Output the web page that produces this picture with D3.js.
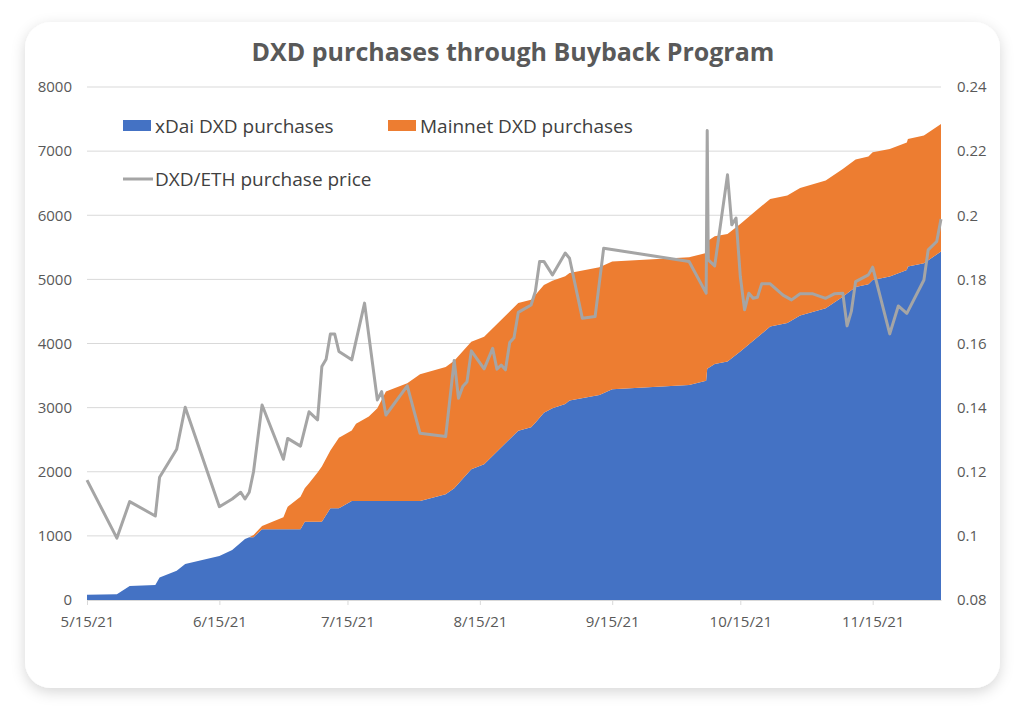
<!DOCTYPE html>
<html>
<head>
<meta charset="utf-8">
<script src="https://cdn.jsdelivr.net/npm/d3@7"></script>
<style>
  html, body { margin: 0; padding: 0; background: #fff; }
  svg { display: block; font-family: 'Open Sans', 'Noto Sans', sans-serif; }
</style>
</head>
<body>
<div id="chart"></div>
<script>
// Cumulative DXD bought, by purchase date
const areaDates = [
  '2021-05-15', '2021-05-22', '2021-05-25', '2021-05-31', '2021-06-01', '2021-06-05',
  '2021-06-07', '2021-06-15', '2021-06-18', '2021-06-21', '2021-06-22', '2021-06-23',
  '2021-06-25', '2021-06-30', '2021-07-01', '2021-07-04', '2021-07-05', '2021-07-06',
  '2021-07-08', '2021-07-09', '2021-07-11', '2021-07-13', '2021-07-16', '2021-07-17',
  '2021-07-20', '2021-07-22', '2021-07-24', '2021-07-29', '2021-08-01', '2021-08-07',
  '2021-08-09', '2021-08-13', '2021-08-16', '2021-08-24', '2021-08-27', '2021-08-28',
  '2021-08-30', '2021-09-01', '2021-09-04', '2021-09-05', '2021-09-12', '2021-09-15',
  '2021-10-03', '2021-10-07', '2021-10-07 06:00', '2021-10-09', '2021-10-12', '2021-10-15',
  '2021-10-19', '2021-10-22', '2021-10-26', '2021-10-29', '2021-11-04', '2021-11-08',
  '2021-11-11', '2021-11-14', '2021-11-15', '2021-11-19', '2021-11-23', '2021-11-23 06:00',
  '2021-11-27', '2021-12-01'
];
const xdaiDxd = [
  80, 90, 220, 234, 350, 457,
  560, 686, 780, 950, 978, 978,
  1103, 1103, 1103, 1103, 1222, 1222,
  1222, 1222, 1430, 1430, 1544, 1544,
  1544, 1544, 1544, 1544, 1544, 1649,
  1742, 2039, 2117, 2641, 2694, 2766,
  2922, 2990, 3058, 3110, 3198, 3287,
  3354, 3421, 3605, 3682, 3718, 3874,
  4098, 4264, 4318, 4435, 4550, 4731,
  4880, 4925, 4992, 5044, 5145, 5200,
  5252, 5434
];
const mainnetDxd = [
  0, 0, 0, 0, 0, 0,
  0, 0, 0, 0, 0, 35,
  51, 187, 353, 509, 520, 600,
  768, 858, 900, 1100, 1100, 1206,
  1316, 1446, 1706, 1836, 1977, 1985,
  1990, 1990, 1990, 1990, 1990, 1990,
  1990, 1990, 1990, 1990, 1990, 1990,
  1990, 1990, 1990, 1990, 1990, 1990,
  1990, 1990, 1990, 1990, 1990, 1990,
  1990, 1990, 1990, 1990, 1990, 1990,
  1990, 1990
];

// DXD/ETH price paid on each purchase
const priceDates = [
  '2021-05-15', '2021-05-22', '2021-05-25', '2021-05-31', '2021-06-01', '2021-06-05',
  '2021-06-07', '2021-06-15', '2021-06-18', '2021-06-20', '2021-06-21', '2021-06-22',
  '2021-06-23', '2021-06-25', '2021-06-30', '2021-07-01', '2021-07-04', '2021-07-06',
  '2021-07-08', '2021-07-09', '2021-07-10', '2021-07-11', '2021-07-12', '2021-07-13',
  '2021-07-16', '2021-07-19', '2021-07-22', '2021-07-23', '2021-07-24', '2021-07-29',
  '2021-08-01', '2021-08-07', '2021-08-09', '2021-08-10', '2021-08-11', '2021-08-12',
  '2021-08-13', '2021-08-16', '2021-08-18', '2021-08-19', '2021-08-20', '2021-08-21',
  '2021-08-22', '2021-08-23', '2021-08-24', '2021-08-27', '2021-08-28', '2021-08-29',
  '2021-08-30', '2021-09-01', '2021-09-04', '2021-09-05', '2021-09-08', '2021-09-11',
  '2021-09-13', '2021-10-03', '2021-10-07', '2021-10-07 06:00', '2021-10-07 12:00', '2021-10-09',
  '2021-10-12', '2021-10-13', '2021-10-14', '2021-10-15', '2021-10-16', '2021-10-17',
  '2021-10-18', '2021-10-19', '2021-10-20', '2021-10-22', '2021-10-25', '2021-10-27',
  '2021-10-29', '2021-11-01', '2021-11-04', '2021-11-06', '2021-11-08', '2021-11-09',
  '2021-11-10', '2021-11-11', '2021-11-14', '2021-11-15', '2021-11-19', '2021-11-21',
  '2021-11-23', '2021-11-27', '2021-11-28', '2021-11-30', '2021-12-01'
];
const ethPrice = [
  0.1174, 0.0993, 0.1107, 0.1062, 0.1183, 0.1270,
  0.1401, 0.1091, 0.1115, 0.1136, 0.1115, 0.1136,
  0.1200, 0.1408, 0.1239, 0.1304, 0.1280, 0.1387,
  0.1362, 0.1528, 0.1551, 0.1630, 0.1630, 0.1575,
  0.1549, 0.1726, 0.1424, 0.1450, 0.1377, 0.1468,
  0.1320, 0.1310, 0.1547, 0.1429, 0.1466, 0.1481,
  0.1577, 0.1521, 0.1585, 0.1520, 0.1533, 0.1518,
  0.1603, 0.1618, 0.1697, 0.1720, 0.1762, 0.1856,
  0.1856, 0.1814, 0.1882, 0.1866, 0.1679, 0.1684,
  0.1897, 0.1856, 0.1757, 0.2264, 0.1861, 0.1842,
  0.2126, 0.1970, 0.1991, 0.1809, 0.1705, 0.1757,
  0.1741, 0.1744, 0.1786, 0.1786, 0.1751, 0.1736,
  0.1755, 0.1755, 0.1741, 0.1755, 0.1757, 0.1655,
  0.1700, 0.1793, 0.1814, 0.1838, 0.1630, 0.1717,
  0.1694, 0.1798, 0.1892, 0.1918, 0.1988
];

const xTickDates = ['2021-05-15', '2021-06-15', '2021-07-15', '2021-08-15', '2021-09-15', '2021-10-15', '2021-11-15'];
const seriesNames = ['xDai DXD purchases', 'Mainnet DXD purchases', 'DXD/ETH purchase price'];

const parseDate = (s) => d3.utcParse('%Y-%m-%d %H:%M')(s) || d3.utcParse('%Y-%m-%d')(s);

const width = 1024;
const height = 715;
const plot = { left: 87, right: 941, top: 87, bottom: 600 };
const colors = { xdai: '#4472C4', mainnet: '#ED7D31', price: '#A5A5A5' };

const svg = d3.select('#chart')
  .append('svg')
  .attr('width', width)
  .attr('height', height);

// Card with soft shadow
const filter = svg.append('defs')
  .append('filter')
  .attr('id', 'shadow')
  .attr('x', '-10%')
  .attr('y', '-10%')
  .attr('width', '120%')
  .attr('height', '120%');
filter.append('feDropShadow')
  .attr('dx', 0)
  .attr('dy', 4)
  .attr('stdDeviation', 7)
  .attr('flood-color', '#000')
  .attr('flood-opacity', 0.16);

svg.append('rect')
  .attr('x', 25)
  .attr('y', 22)
  .attr('width', 975)
  .attr('height', 666)
  .attr('rx', 26)
  .style('fill', '#fff')
  .style('filter', 'url(#shadow)');

// Scales
const x = d3.scaleUtc()
  .domain([parseDate('2021-05-15'), parseDate('2021-12-01')])
  .range([plot.left, plot.right]);
const yLeft = d3.scaleLinear().domain([0, 8000]).range([plot.bottom, plot.top]);
const yRight = d3.scaleLinear().domain([0.08, 0.24]).range([plot.bottom, plot.top]);

// Horizontal grid lines
svg.append('g')
  .attr('class', 'grid-lines')
  .selectAll('line')
  .data(yLeft.ticks(8).filter((d) => d > 0))
  .enter()
  .append('line')
  .attr('x1', plot.left)
  .attr('x2', plot.right)
  .attr('y1', (d) => yLeft(d))
  .attr('y2', (d) => yLeft(d))
  .style('stroke', '#d9d9d9')
  .style('stroke-width', 1);

// Stacked areas
const rows = areaDates.map((d, i) => ({
  date: parseDate(d),
  xdai: xdaiDxd[i],
  mainnet: mainnetDxd[i],
}));
const stacked = d3.stack().keys(['xdai', 'mainnet'])(rows);

const area = d3.area()
  .x((d) => x(d.data.date))
  .y0((d) => yLeft(d[0]))
  .y1((d) => yLeft(d[1]));

svg.append('g')
  .selectAll('path')
  .data(stacked)
  .enter()
  .append('path')
  .attr('d', area)
  .style('fill', (d) => colors[d.key]);

// X axis
const xAxis = svg.append('g')
  .attr('class', 'x-axis')
  .attr('transform', `translate(0,${plot.bottom})`)
  .call(
    d3.axisBottom(x)
      .tickValues(xTickDates.map(parseDate))
      .tickFormat(d3.utcFormat('%-m/%-d/%y'))
      .tickSize(5)
      .tickSizeOuter(0)
  );
xAxis.select('.domain').style('stroke', '#d9d9d9');
xAxis.selectAll('.tick line').style('stroke', '#d9d9d9');
xAxis.selectAll('text')
  .attr('dy', null)
  .attr('y', 27)
  .style('font-family', "'Open Sans', sans-serif")
  .style('font-size', '15px')
  .style('fill', '#595959');

// Left axis
const leftAxis = svg.append('g')
  .attr('transform', `translate(${plot.left},0)`)
  .call(d3.axisLeft(yLeft).ticks(8, 'd').tickSize(0).tickPadding(15));
leftAxis.select('.domain').remove();
leftAxis.selectAll('text')
  .style('font-family', "'Open Sans', sans-serif")
  .style('font-size', '15px')
  .style('fill', '#595959');

// Right axis
const rightAxis = svg.append('g')
  .attr('transform', `translate(${plot.right},0)`)
  .call(
    d3.axisRight(yRight)
      .ticks(8)
      .tickSize(0)
      .tickPadding(16)
      .tickFormat((d) => String(+d.toFixed(2)))
  );
rightAxis.select('.domain').remove();
rightAxis.selectAll('text')
  .style('font-family', "'Open Sans', sans-serif")
  .style('font-size', '15px')
  .style('fill', '#595959');

// Price line
const priceData = priceDates.map((d, i) => ({ date: parseDate(d), value: ethPrice[i] }));
const line = d3.line()
  .x((d) => x(d.date))
  .y((d) => yRight(d.value));

svg.append('path')
  .datum(priceData)
  .attr('d', line)
  .style('fill', 'none')
  .style('stroke', colors.price)
  .style('stroke-width', 3)
  .style('stroke-linejoin', 'round');

// Title
svg.append('text')
  .attr('x', 513)
  .attr('y', 61)
  .attr('text-anchor', 'middle')
  .style('font-size', '25px')
  .style('font-weight', 700)
  .style('fill', '#595959')
  .text('DXD purchases through Buyback Program');

// Legend
const legendItems = [
  { name: seriesNames[0], color: colors.xdai, type: 'box', x: 123, y: 126 },
  { name: seriesNames[1], color: colors.mainnet, type: 'box', x: 388, y: 126 },
  { name: seriesNames[2], color: colors.price, type: 'line', x: 123, y: 179 },
];
const legend = svg.append('g').attr('class', 'legend');
legendItems.forEach((item) => {
  if (item.type === 'box') {
    legend.append('rect')
      .attr('x', item.x)
      .attr('y', item.y - 6)
      .attr('width', 28)
      .attr('height', 11)
      .style('fill', item.color);
  } else {
    legend.append('line')
      .attr('x1', item.x)
      .attr('x2', item.x + 30)
      .attr('y1', item.y)
      .attr('y2', item.y)
      .style('stroke', item.color)
      .style('stroke-width', 3);
  }
  legend.append('text')
    .attr('x', item.x + 32)
    .attr('y', item.y + 7)
    .style('font-size', '19px')
    .style('fill', '#404040')
    .text(item.name);
});
</script>
</body>
</html>
